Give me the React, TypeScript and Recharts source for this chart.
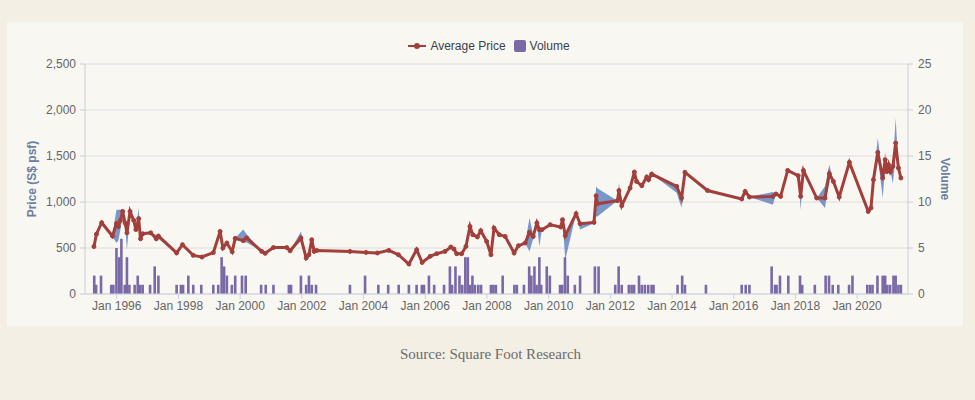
import React from 'react';
import { ComposedChart, Line, Area, Bar, XAxis, YAxis, CartesianGrid, Legend } from 'recharts';

const YEAR_TICKS = [1996, 1998, 2000, 2002, 2004, 2006, 2008, 2010, 2012, 2014, 2016, 2018, 2020];
const PRICE_TICKS = [0, 500, 1000, 1500, 2000, 2500];
const VOLUME_TICKS = [0, 5, 10, 15, 20, 25];
const PRICE_MINOR = [0, 100, 200, 300, 400, 500, 600, 700, 800, 900, 1000, 1100, 1200, 1300, 1400, 1500, 1600, 1700, 1800, 1900, 2000, 2100, 2200, 2300, 2400, 2500];
const VOLUME_MINOR = [0, 1, 2, 3, 4, 5, 6, 7, 8, 9, 10, 11, 12, 13, 14, 15, 16, 17, 18, 19, 20, 21, 22, 23, 24, 25];

// [date as decimal year, average price, low, high] in S$ psf
const priceRows: [number, number, number, number][] = [
  [1995.26, 515, 515, 515], [1995.34, 650, 650, 660], [1995.51, 775, 760, 800], [1995.86, 630, 620, 640],
  [1995.99, 765, 557, 917], [1996.05, 735, 580, 917], [1996.12, 800, 700, 917], [1996.19, 898, 860, 917],
  [1996.27, 772, 740, 800], [1996.33, 665, 480, 680], [1996.43, 898, 880, 905], [1996.55, 800, 790, 810],
  [1996.62, 700, 690, 710], [1996.71, 820, 800, 935], [1996.77, 600, 590, 610], [1996.84, 655, 645, 660],
  [1997.1, 665, 655, 670], [1997.28, 600, 580, 640], [1997.35, 630, 600, 640], [1997.94, 446, 446, 446],
  [1998.13, 536, 536, 536], [1998.48, 420, 420, 420], [1998.76, 402, 402, 402], [1999.13, 450, 450, 450],
  [1999.35, 680, 660, 700], [1999.44, 500, 500, 500], [1999.57, 554, 554, 554], [1999.74, 460, 460, 460],
  [1999.84, 605, 600, 610], [2000.1, 580, 560, 700], [2000.21, 609, 560, 650], [2000.7, 463, 463, 463],
  [2000.81, 442, 442, 442], [2001.08, 505, 505, 505], [2001.51, 505, 505, 505], [2001.62, 470, 470, 470],
  [2001.97, 609, 580, 680], [2002.14, 391, 391, 391], [2002.23, 427, 427, 427], [2002.32, 590, 590, 590],
  [2002.4, 463, 463, 463], [2002.48, 474, 474, 474], [2003.56, 463, 463, 463], [2004.08, 452, 452, 452],
  [2004.45, 446, 446, 446], [2004.82, 474, 474, 474], [2005.13, 427, 427, 427], [2005.47, 326, 326, 326],
  [2005.72, 481, 481, 481], [2005.9, 343, 343, 343], [2006.16, 409, 409, 409], [2006.37, 438, 438, 438],
  [2006.64, 463, 463, 463], [2006.83, 511, 511, 511], [2006.93, 489, 489, 489], [2007.02, 438, 438, 438],
  [2007.18, 438, 438, 438], [2007.32, 517, 517, 517], [2007.45, 735, 735, 735], [2007.54, 645, 645, 645],
  [2007.69, 620, 620, 620], [2007.8, 688, 688, 688], [2007.99, 572, 572, 572], [2008.13, 427, 427, 427],
  [2008.23, 717, 717, 717], [2008.4, 645, 645, 645], [2008.59, 626, 626, 626], [2008.88, 446, 446, 446],
  [2009.02, 525, 525, 525], [2009.24, 554, 554, 554], [2009.38, 670, 463, 829], [2009.5, 626, 600, 640],
  [2009.62, 772, 760, 780], [2009.7, 699, 517, 710], [2009.78, 699, 699, 699], [2010.05, 753, 753, 753],
  [2010.39, 728, 728, 728], [2010.45, 808, 808, 808], [2010.54, 634, 373, 640], [2010.89, 873, 873, 873],
  [2011.02, 764, 700, 770], [2011.47, 778, 770, 790], [2011.54, 1068, 843, 1170], [2011.58, 981, 843, 1150],
  [2012.23, 1014, 1014, 1014], [2012.28, 1126, 1100, 1213], [2012.37, 960, 960, 960], [2012.64, 1152, 1152, 1152],
  [2012.78, 1326, 1326, 1326], [2012.85, 1224, 1224, 1224], [2013.02, 1177, 1177, 1177], [2013.18, 1272, 1272, 1272],
  [2013.24, 1242, 1242, 1242], [2013.34, 1304, 1304, 1304], [2014.15, 1170, 1100, 1180], [2014.31, 1043, 938, 1060],
  [2014.42, 1322, 1322, 1322], [2015.15, 1125, 1125, 1125], [2016.26, 1033, 1033, 1033], [2016.37, 1115, 1115, 1115],
  [2016.51, 1054, 1054, 1054], [2017.27, 1061, 971, 1110], [2017.37, 1087, 1087, 1087], [2017.52, 1061, 1061, 1061],
  [2017.75, 1343, 1343, 1343], [2018.09, 1286, 1286, 1286], [2018.17, 1061, 915, 1070], [2018.26, 1343, 1343, 1343],
  [2018.69, 1043, 1043, 1043], [2018.96, 1043, 935, 1170], [2019.1, 1308, 1290, 1405], [2019.23, 1224, 1224, 1224],
  [2019.42, 1054, 1054, 1054], [2019.75, 1431, 1410, 1440], [2020.36, 898, 898, 898], [2020.45, 935, 935, 935],
  [2020.53, 1242, 1242, 1242], [2020.67, 1539, 1500, 1696], [2020.83, 1261, 1043, 1280], [2020.91, 1460, 1400, 1550],
  [2020.96, 1330, 1330, 1330], [2021.02, 1405, 1405, 1405], [2021.08, 1330, 1330, 1330], [2021.16, 1387, 1200, 1400],
  [2021.25, 1641, 1500, 1913], [2021.34, 1370, 1370, 1370], [2021.42, 1261, 1261, 1261],
];

// [date as decimal year, number of transactions]
const volumeRows: [number, number][] = [
  [1995.27, 2], [1995.33, 1], [1995.49, 2], [1995.82, 1], [1995.89, 1], [1995.99, 5], [1996.08, 4], [1996.15, 6],
  [1996.26, 1], [1996.33, 4], [1996.41, 1], [1996.58, 1], [1996.68, 2], [1996.76, 1], [1996.84, 1], [1997.08, 1],
  [1997.23, 3], [1997.35, 2], [1997.94, 1], [1998.08, 1], [1998.15, 1], [1998.32, 2], [1998.48, 1], [1998.74, 1],
  [1999.13, 1], [1999.29, 1], [1999.4, 4], [1999.48, 3], [1999.57, 2], [1999.73, 1], [1999.84, 2], [2000.06, 2],
  [2000.18, 2], [2000.68, 1], [2000.83, 1], [2001.08, 1], [2001.58, 1], [2001.65, 1], [2001.97, 2], [2002.14, 1],
  [2002.23, 2], [2002.32, 1], [2002.46, 1], [2003.56, 1], [2004.05, 2], [2004.48, 1], [2004.8, 1], [2005.14, 1],
  [2005.47, 1], [2005.72, 1], [2005.89, 1], [2005.96, 1], [2006.12, 2], [2006.29, 1], [2006.61, 1], [2006.8, 3],
  [2006.87, 1], [2006.98, 3], [2007.11, 2], [2007.2, 1], [2007.3, 4], [2007.38, 4], [2007.45, 1], [2007.53, 2],
  [2007.61, 1], [2007.72, 1], [2007.81, 1], [2008.13, 1], [2008.21, 1], [2008.29, 1], [2008.51, 2], [2008.89, 1],
  [2008.97, 1], [2009.2, 1], [2009.37, 3], [2009.44, 2], [2009.54, 3], [2009.61, 1], [2009.7, 4], [2009.76, 1],
  [2009.94, 3], [2010.04, 2], [2010.37, 1], [2010.44, 1], [2010.53, 4], [2010.62, 2], [2010.85, 1], [2011.02, 2],
  [2011.5, 3], [2011.62, 3], [2012.16, 1], [2012.27, 3], [2012.37, 1], [2012.6, 1], [2012.69, 1], [2012.77, 1],
  [2012.93, 2], [2013.02, 1], [2013.12, 1], [2013.23, 1], [2013.34, 1], [2013.4, 1], [2014.18, 1], [2014.33, 2],
  [2014.42, 1], [2015.1, 1], [2016.26, 1], [2016.39, 1], [2016.51, 1], [2017.23, 3], [2017.34, 1], [2017.39, 1],
  [2017.5, 2], [2017.77, 2], [2018.15, 2], [2018.22, 1], [2018.63, 1], [2018.98, 2], [2019.09, 2], [2019.21, 1],
  [2019.39, 1], [2019.74, 1], [2019.85, 2], [2020.33, 1], [2020.42, 1], [2020.5, 1], [2020.66, 2], [2020.83, 2],
  [2020.91, 2], [2020.98, 1], [2021.07, 1], [2021.18, 2], [2021.25, 2], [2021.34, 1], [2021.42, 1],
];

const priceData = priceRows.map(([t, avg, lo, hi]) => ({ t, price: avg, range: [lo, hi] }));
const volumeData = volumeRows.map(([t, v]) => ({ t, volume: v }));

const FONT = '"Liberation Sans", Arial, sans-serif';
const TICK = { fill: '#666666', fontSize: 12, fontFamily: FONT };
const AXIS_LINE = { stroke: '#c8cdd6' };
const BAR_COLOR = '#7a69a6';
const LINE_COLOR = '#a33f3b';
const noTick = () => <g />;

// the time axis packs bars closer than a pixel, so draw each one at a fixed width around its date
const VolumeBar = (props: any) => {
  const { x, y, width, height } = props;
  if (!height || height <= 0) return <g />;
  const cx = x + width / 2;
  return <rect x={cx - 1.3} y={y} width={2.6} height={height} fill={BAR_COLOR} />;
};

// highcharts-like legend: line with a filled marker, rounded square for the bars
const LegendContent = (props: any) => {
  const items = (props.payload || []).filter((p: any) => p.type !== 'none');
  return (
    <div style={{ display: 'flex', justifyContent: 'center', alignItems: 'center', height: 20 }}>
      {items.map((p: any) => (
        <span key={p.value} style={{ display: 'inline-flex', alignItems: 'center', marginRight: 8 }}>
          <svg width={p.type === 'line' ? 18 : 12} height={12} style={{ marginRight: 4 }}>
            {p.type === 'line' ? (
              <g>
                <line x1={0} y1={6} x2={18} y2={6} stroke={p.color} strokeWidth={2} />
                <circle cx={9} cy={6} r={3} fill={p.color} />
              </g>
            ) : (
              <rect x={0} y={0} width={12} height={12} rx={2} fill={p.color} />
            )}
          </svg>
          <span style={{ color: '#3a3f4a', fontSize: 12 }}>{p.value}</span>
        </span>
      ))}
    </div>
  );
};

export default function App() {
  return (
    <div style={{ position: 'absolute', left: 0, top: 0, width: 975, height: 400, background: '#f3efe4', fontFamily: FONT }}>
      <div style={{ position: 'absolute', left: 7, top: 22, width: 956, height: 304, background: '#f8f7f2' }}>
        <ComposedChart width={956} height={304} data={volumeData} margin={{ top: 14, right: 15, left: 18, bottom: 2 }}>
          <CartesianGrid yAxisId="price" vertical={false} stroke="#dcdcdc" />
          <XAxis
            dataKey="t"
            type="number"
            scale="linear"
            domain={[1994.97, 2021.65]}
            allowDataOverflow
            ticks={YEAR_TICKS}
            interval={0}
            tickFormatter={(v: number) => `Jan ${v}`}
            tick={TICK}
            tickSize={5}
            tickMargin={2}
            axisLine={{ stroke: '#c9d3e3' }}
            tickLine={{ stroke: '#c9d3e3' }}
            height={30}
          />
          <YAxis
            yAxisId="priceMinor"
            orientation="left"
            width={0}
            domain={[0, 2500]}
            ticks={PRICE_MINOR}
            interval={0}
            tick={noTick}
            tickSize={4}
            axisLine={false}
            tickLine={AXIS_LINE}
          />
          <YAxis
            yAxisId="volMinor"
            orientation="right"
            width={0}
            domain={[0, 25]}
            ticks={VOLUME_MINOR}
            interval={0}
            tick={noTick}
            tickSize={4}
            axisLine={false}
            tickLine={AXIS_LINE}
          />
          <YAxis
            yAxisId="price"
            orientation="left"
            width={60}
            domain={[0, 2500]}
            ticks={PRICE_TICKS}
            interval={0}
            tickFormatter={(v: number) => v.toLocaleString('en-US')}
            tick={TICK}
            tickSize={5}
            tickMargin={4}
            axisLine={AXIS_LINE}
            tickLine={AXIS_LINE}
          />
          <YAxis
            yAxisId="vol"
            orientation="right"
            width={40}
            domain={[0, 25]}
            ticks={VOLUME_TICKS}
            interval={0}
            tick={TICK}
            tickSize={5}
            tickMargin={5}
            axisLine={AXIS_LINE}
            tickLine={AXIS_LINE}
          />
          <Legend
            verticalAlign="top"
            align="center"
            content={LegendContent}
            wrapperStyle={{ left: 8, width: 956, height: 28, fontFamily: FONT }}
          />
          <Bar
            yAxisId="vol"
            dataKey="volume"
            name="Volume"
            fill={BAR_COLOR}
            barSize={3}
            shape={VolumeBar}
            legendType="square"
            isAnimationActive={false}
          />
          <Area
            yAxisId="price"
            data={priceData}
            dataKey="range"
            type="linear"
            fill="#6a8cc3"
            fillOpacity={0.9}
            stroke="none"
            legendType="none"
            connectNulls
            isAnimationActive={false}
          />
          <Line
            yAxisId="price"
            data={priceData}
            dataKey="price"
            name="Average Price"
            type="linear"
            stroke={LINE_COLOR}
            strokeWidth={3}
            dot={{ r: 2, fill: LINE_COLOR, stroke: LINE_COLOR, strokeWidth: 1 }}
            legendType="line"
            connectNulls
            isAnimationActive={false}
          />
        </ComposedChart>
      </div>
      <div
        style={{
          position: 'absolute', left: 32, top: 179, transform: 'translate(-50%, -50%) rotate(-90deg)',
          whiteSpace: 'nowrap', fontSize: 12, fontWeight: 'bold', color: '#6b7fa3',
        }}
      >
        Price (S$ psf)
      </div>
      <div
        style={{
          position: 'absolute', left: 945, top: 179, transform: 'translate(-50%, -50%) rotate(90deg)',
          whiteSpace: 'nowrap', fontSize: 12, fontWeight: 'bold', color: '#6b7fa3',
        }}
      >
        Volume
      </div>
      <div
        style={{
          position: 'absolute', left: 3, top: 346, width: 975, textAlign: 'center',
          fontFamily: '"Liberation Serif", serif', fontSize: 15, color: '#6b6b6b',
        }}
      >
        Source: Square Foot Research
      </div>
    </div>
  );
}
